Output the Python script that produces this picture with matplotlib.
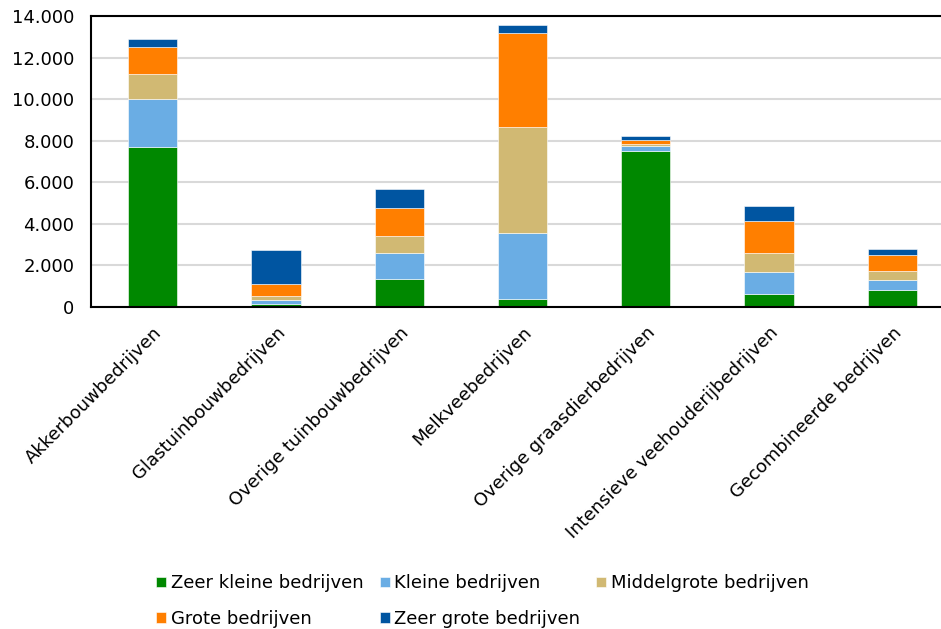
import matplotlib.pyplot as plt
from matplotlib.ticker import FuncFormatter
import numpy as np

categories = ["Akkerbouwbedrijven", "Glastuinbouwbedrijven", "Overige tuinbouwbedrijven",
              "Melkveebedrijven", "Overige graasdierbedrijven", "Intensieve veehouderijbedrijven",
              "Gecombineerde bedrijven"]
series_names = ["Zeer kleine bedrijven", "Kleine bedrijven", "Middelgrote bedrijven",
                "Grote bedrijven", "Zeer grote bedrijven"]
zeer_klein = [7700, 130, 1350, 385, 7500, 645, 820]
klein = [2300, 210, 1250, 3195, 240, 1040, 480]
middelgroot = [1200, 190, 800, 5100, 80, 915, 430]
groot = [1310, 560, 1350, 4525, 225, 1525, 760]
zeer_groot = [405, 1670, 915, 385, 160, 720, 320]
colors = ["#008800", "#6aade4", "#d1b973", "#ff7f00", "#0055a1"]

plt.rcParams['font.family'] = ['DejaVu Sans']
fig = plt.figure(figsize=(9.41, 6.29), dpi=100)
ax = fig.add_axes([91 / 941, 322 / 629, 863 / 941, 291 / 629])

x = np.arange(len(categories))
bottom = np.zeros(len(categories))
handles = []
for name, vals, c in zip(series_names, [zeer_klein, klein, middelgroot, groot, zeer_groot], colors):
    b = ax.bar(x, vals, 0.4, bottom=bottom, color=c, label=name, edgecolor="white", linewidth=0.4)
    handles.append(b)
    bottom += np.array(vals)

ax.set_xlim(-0.5, 6.5)
ax.set_ylim(0, 14000)
ax.set_yticks(range(0, 14001, 2000))
ax.yaxis.set_major_formatter(FuncFormatter(lambda v, p: f"{int(v):,}".replace(",", ".")))
ax.yaxis.grid(True, color="#d9d9d9", linewidth=1.5)
ax.set_axisbelow(True)
ax.spines['right'].set_visible(False)
for s in ['top', 'left', 'bottom']:
    ax.spines[s].set_linewidth(1.5)
ax.tick_params(axis='both', length=0, labelsize=13)
ax.tick_params(axis='y', pad=12)
ax.tick_params(axis='x', pad=12)
ax.set_xticks(x)
ax.set_xticklabels(categories, rotation=45, ha='right', rotation_mode='anchor')

# row-major order for the legend (matplotlib fills columns first)
order = [0, 3, 1, 4, 2]
fig.legend(handles=[handles[i] for i in order], loc='upper left',
           bbox_to_anchor=(142 / 941, 1 - 560 / 629),
           ncol=3, frameon=False, fontsize=13, handlelength=0.55, handleheight=0.55,
           handletextpad=0.25, columnspacing=0.9, labelspacing=0.95, borderpad=0.3)

fig.savefig("out.png", dpi=100)
